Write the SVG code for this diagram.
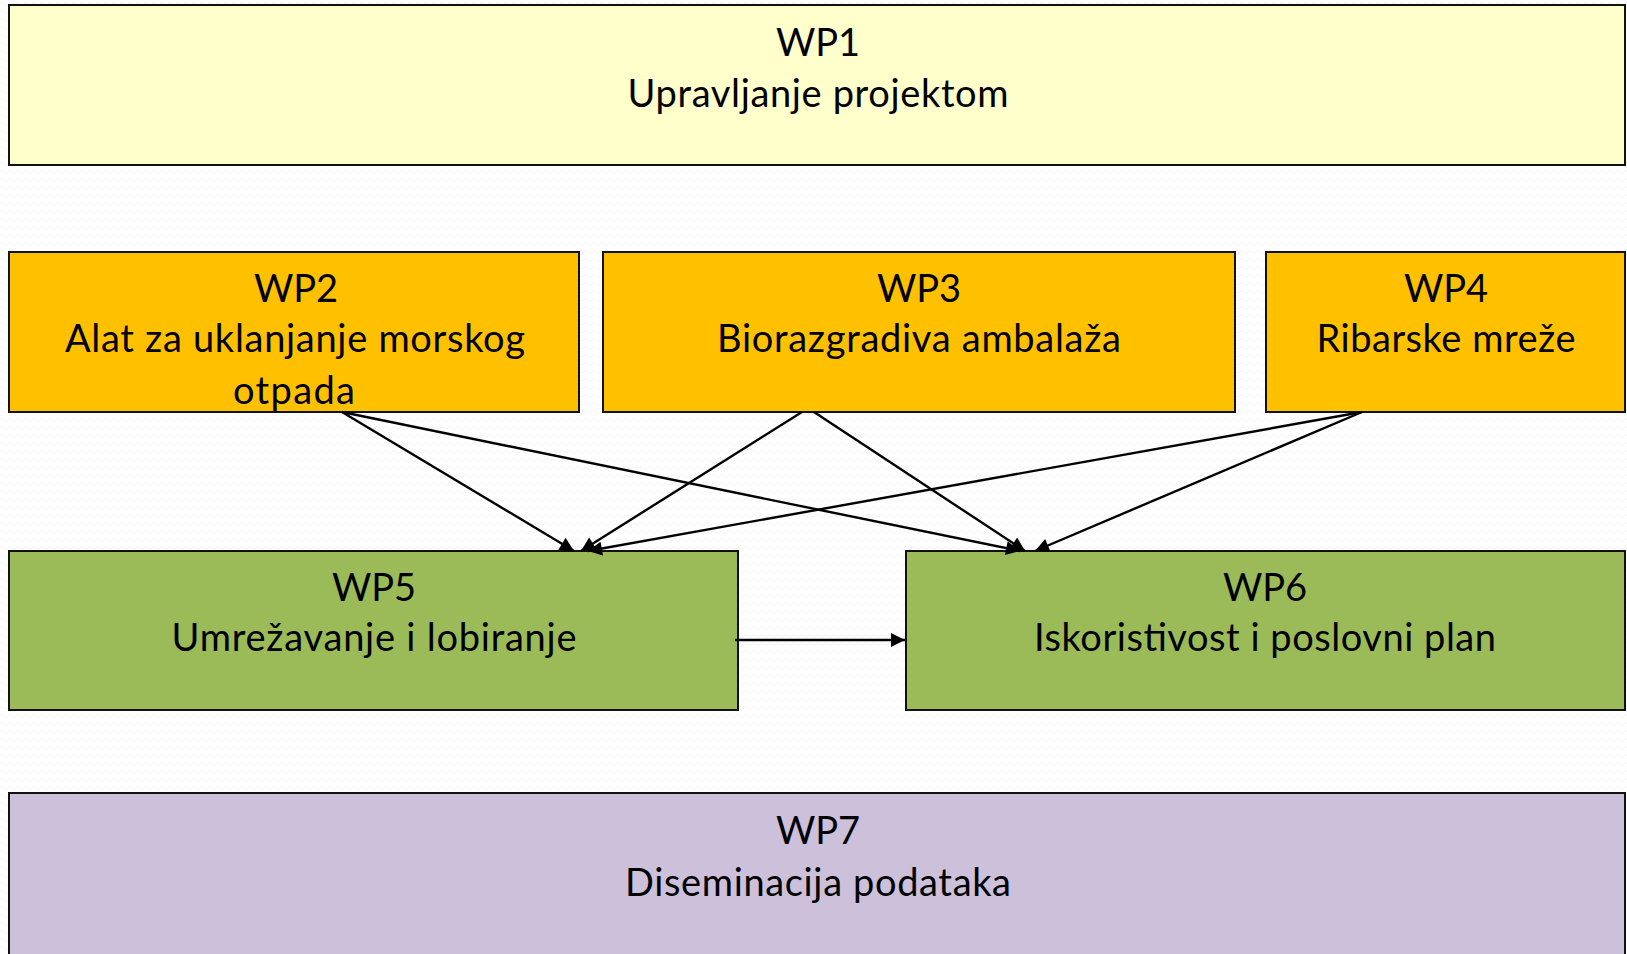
<svg xmlns="http://www.w3.org/2000/svg" width="1627" height="954" viewBox="0 0 1627 954">
<style>
.box{stroke:#111;stroke-width:2}
.t{font-family:Lato,"Liberation Sans",sans-serif;font-size:38px;fill:#000;text-anchor:middle}
.c{stroke:#000;stroke-width:2.4;fill:none;marker-end:url(#ah)}
</style>
<defs>
<pattern id="bg" width="8" height="8" patternUnits="userSpaceOnUse">
<path d="M0 4 Q2 1 4 4 T8 4" stroke="#f2f2f2" stroke-width="1" fill="none"/>
</pattern>
<marker id="ah" viewBox="0 0 10 10" refX="10" refY="5" markerWidth="16" markerHeight="14" markerUnits="userSpaceOnUse" orient="auto">
<path d="M0 0 L10 5 L0 10 Z" fill="#000"/>
</marker>
</defs>
<rect width="1627" height="954" fill="#fff"/>
<rect width="1627" height="954" fill="url(#bg)"/>
<g id="wp1">
<rect class="box" x="9" y="5" width="1616" height="160" fill="#FFFFCC"/>
<text class="t" x="818" y="56">WP1</text>
<text class="t" x="818" y="107" textLength="381" lengthAdjust="spacing">Upravljanje projektom</text>
</g>
<g id="wp2">
<rect class="box" x="9" y="252" width="570" height="160" fill="#FFC000"/>
<text class="t" x="296" y="302">WP2</text>
<text class="t" x="295" y="352" textLength="460" lengthAdjust="spacing">Alat za uklanjanje morskog</text>
<text class="t" x="294" y="404" textLength="122" lengthAdjust="spacing">otpada</text>
</g>
<g id="wp3">
<rect class="box" x="603" y="252" width="632" height="160" fill="#FFC000"/>
<text class="t" x="919" y="302">WP3</text>
<text class="t" x="919" y="352" textLength="404" lengthAdjust="spacing">Biorazgradiva ambalaža</text>
</g>
<g id="wp4">
<rect class="box" x="1266" y="252" width="359" height="160" fill="#FFC000"/>
<text class="t" x="1446" y="302">WP4</text>
<text class="t" x="1446" y="352" textLength="259" lengthAdjust="spacing">Ribarske mreže</text>
</g>
<g id="wp5">
<rect class="box" x="9" y="551" width="729" height="159" fill="#9BBB59"/>
<text class="t" x="374" y="601">WP5</text>
<text class="t" x="374" y="651" textLength="405" lengthAdjust="spacing">Umrežavanje i lobiranje</text>
</g>
<g id="wp6">
<rect class="box" x="906" y="551" width="719" height="159" fill="#9BBB59"/>
<text class="t" x="1265" y="601">WP6</text>
<text class="t" x="1265" y="651" textLength="462" lengthAdjust="spacing">Iskoristivost i poslovni plan</text>
</g>
<g id="wp7">
<rect class="box" x="9" y="793" width="1616" height="170" fill="#CCC0DA"/>
<text class="t" x="818" y="844">WP7</text>
<text class="t" x="818" y="896" textLength="386" lengthAdjust="spacing">Diseminacija podataka</text>
</g>
<g id="connectors">
<line class="c" x1="342" y1="412" x2="574" y2="551"/>
<line class="c" x1="342" y1="412" x2="1020" y2="551"/>
<line class="c" x1="802" y1="412" x2="581" y2="551"/>
<line class="c" x1="814" y1="412" x2="1025" y2="551"/>
<line class="c" x1="1362" y1="412" x2="588" y2="551"/>
<line class="c" x1="1362" y1="412" x2="1035" y2="551"/>
<line class="c" x1="735" y1="640" x2="905" y2="640"/>
</g>
</svg>
